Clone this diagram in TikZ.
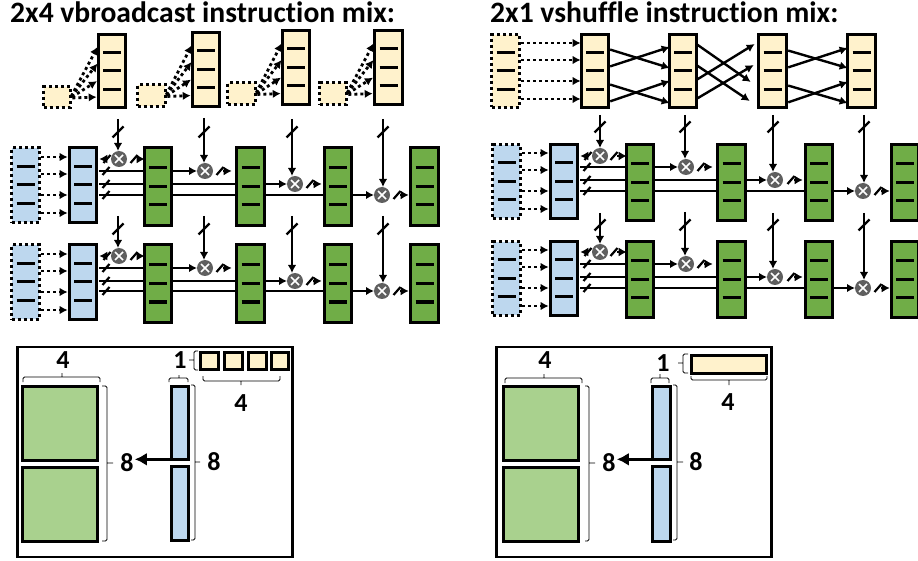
\documentclass[tikz,border=0pt]{standalone}
\usepackage{fontspec}
\setmainfont{Carlito}[Ligatures=NoCommon]
\usetikzlibrary{arrows.meta,calc}
\definecolor{yel}{HTML}{FFF2CC}
\definecolor{blu}{HTML}{BDD7EE}
\definecolor{grn}{HTML}{70AD47}
\definecolor{lgrn}{HTML}{A9D18E}
\definecolor{mgr}{HTML}{5F5F5F}
\tikzset{
  solidbox/.style={draw=black,line width=3.4pt,inner sep=0pt,outer sep=0pt,rectangle},
  dotbox/.style={draw=black,line width=3.2pt,inner sep=0pt,outer sep=0pt,rectangle,dash pattern=on 3pt off 3pt},
  mark line/.style={line width=3pt,black},
  dotarrow/.style={line width=2.8pt,dash pattern=on 3pt off 3pt,-{Latex[length=8pt,width=8.5pt]}},
  conn/.style={line width=2.4pt,black},
  connarrow/.style={line width=2.4pt,black,-{Latex[length=8pt,width=8.5pt]}},
  outarrow/.style={line width=2.4pt,black,-{Latex[length=8pt,width=9pt]}},
  slash/.style={line width=2.2pt,black},
  label text/.style={font=\bfseries\fontsize{26}{26}\selectfont,inner sep=0pt},
  title text/.style={font=\bfseries\fontsize{29.6}{30}\selectfont,inner sep=0pt,anchor=base west},
  brace line/.style={line width=0.9pt,black,rounded corners=1.5pt},
  frame box/.style={draw=black,line width=2.6pt,inner sep=0pt,outer sep=0pt,rectangle,fill=white},
  bigarrow/.style={line width=3.6pt,black,-{Latex[length=12pt,width=13pt]}},
}
% name, style, x1,y1,x2,y2 (outer edges in reference pixels)
\newcommand\bx[6]{\node[#2,minimum width={(#5-#3-3.4)*1pt},minimum height={(#6-#4-3.4)*1pt}] (#1) at ({(#3+#5)/2},{(#4+#6)/2}) {};}
% three marks inside a box
\newcommand\mk[1]{\foreach \dy in {-18.5,0,18.5}{\draw[mark line] ([shift={(-9,\dy)}]#1.center) -- ([shift={(9,\dy)}]#1.center);}}
\newcommand\bxm[6]{\bx{#1}{#2}{#3}{#4}{#5}{#6}\mk{#1}}
% multiplier
\newcommand\mult[3]{\node[circle,fill=mgr,minimum size=16pt,inner sep=0pt,outer sep=0pt] (#1) at (#2,#3) {};
  \draw[white,line width=1.6pt] ([shift={(-4,-4)}]#1.center) -- ([shift={(4,4)}]#1.center) ([shift={(-4,4)}]#1.center) -- ([shift={(4,-4)}]#1.center);}
% slashes across a point: long and short
\newcommand\sla[2]{\draw[slash] ({#1-5.5},{#2+5.5}) -- ({#1+5.5},{#2-5.5});}
\newcommand\ssl[2]{\draw[slash] ({#1-3.5},{#2+4}) -- ({#1+3.5},{#2-4});}
\begin{document}
\begin{tikzpicture}[x=1pt,y=-1pt]
\useasboundingbox (0,0) rectangle (918,561);
\node[title text] (t1) at (10,23) {2x4 vbroadcast instruction mix:};
\node[title text] (t2) at (490,23) {2x1 vshuffle instruction mix:};

% ---------- left top
\bxm{a1}{solidbox,fill=yel}{97}{33}{127}{109}
\bxm{a2}{solidbox,fill=yel}{191}{31}{221}{108}
\bxm{a3}{solidbox,fill=yel}{281}{29}{311}{106}
\bxm{a4}{solidbox,fill=yel}{373}{29}{404}{106}
\bx{s1}{dotbox,fill=yel}{42}{85}{72}{109}
\bx{s2}{dotbox,fill=yel}{136}{83}{167}{108}
\bx{s3}{dotbox,fill=yel}{226}{81}{257}{106}
\bx{s4}{dotbox,fill=yel}{318}{81}{348}{106}
\foreach \i in {1,2,3,4}{
 \foreach \dy in {-26,-9,9,26}{
  \draw[dotarrow,shorten >=2pt,shorten <=2pt] ([yshift=-1pt]s\i.east) -- ([shift={(0,\dy)}]a\i.west);
 }
}
% ---------- right top
\bx{d}{dotbox,fill=yel}{490}{33}{521}{109}\mk{d}
\bxm{b1}{solidbox,fill=yel}{580}{33}{610}{109}
\bxm{b2}{solidbox,fill=yel}{668}{33}{698}{109}
\bxm{b3}{solidbox,fill=yel}{757}{33}{788}{109}
\bxm{b4}{solidbox,fill=yel}{846}{33}{877}{109}
\foreach \y in {43,60,81,99}{\draw[dotarrow,shorten >=1pt,shorten <=2pt] (d.east |- 0,\y) -- (b1.west |- 0,\y);}
\foreach \p/\q/\sy/\ey in {b1/b2/49/68,b1/b2/67/47,b1/b2/84/103,b1/b2/102/81,b3/b4/50/68,b3/b4/68/48,b3/b4/85/103,b3/b4/103/82}{
  \draw[connarrow,shorten <=2pt] (\p.east |- 0,\sy) -- (\q.west |- 0,\ey);}
\draw[connarrow] (b2.east |- 0,44) -- ($(b3.west |- 0,82)+(-8,0)$);
\draw[connarrow] (b2.east |- 0,65) -- ($(b3.west |- 0,101)+(-9,0)$);
\draw[connarrow] (b2.east |- 0,99) -- ($(b3.west |- 0,65)+(-5,0)$);
\draw[connarrow] (b2.east |- 0,80) -- ($(b3.west |- 0,44)+(-4,0)$);

% ---------- multiply rows, left
\foreach \pre/\top/\ya/\yb/\yc/\yd in {L/146/159/171/184/195,M/243/256/268/281/291}{
 \bxm{\pre d}{dotbox,fill=blu}{10}{\top}{41}{\top+78}
 \bxm{\pre b}{solidbox,fill=blu}{68}{\top}{98}{\top+78}
 \bxm{\pre g1}{solidbox,fill=grn}{143}{\top+2}{173}{\top+79}
 \bxm{\pre g2}{solidbox,fill=grn}{235}{\top+2}{266}{\top+79}
 \bxm{\pre g3}{solidbox,fill=grn}{323}{\top+2}{353}{\top+79}
 \bxm{\pre g4}{solidbox,fill=grn}{409}{\top+2}{440}{\top+79}
 \foreach \dy in {11,28,49,67}{\draw[dotarrow,shorten >=2pt,shorten <=2pt] (\pre d.east |- 0,\top+\dy) -- (\pre b.west |- 0,\top+\dy);}
 \mult{\pre m1}{119}{\ya}
 \mult{\pre m2}{205}{\yb}
 \mult{\pre m3}{295}{\yc}
 \mult{\pre m4}{382}{\yd}
 \draw[conn] ($(\pre b.east |- 0,\yb)+(3,0)$) -- (\pre g1.west |- 0,\yb);
 \draw[conn] ($(\pre b.east |- 0,\yc)+(3,0)$) -- (\pre g1.west |- 0,\yc);
 \draw[conn] ($(\pre b.east |- 0,\yd)+(3,0)$) -- (\pre g1.west |- 0,\yd);
 \draw[conn] (\pre g1.east |- 0,\yc) -- (\pre g2.west |- 0,\yc);
 \draw[conn] (\pre g1.east |- 0,\yd) -- (\pre g2.west |- 0,\yd);
 \draw[conn] (\pre g2.east |- 0,\yd) -- (\pre g3.west |- 0,\yd);
 \draw[connarrow] (\pre g1.east |- 0,\yb) -- (\pre m2);
 \draw[connarrow] (\pre g2.east |- 0,\yc) -- (\pre m3);
 \draw[connarrow] (\pre g3.east |- 0,\yd) -- (\pre m4);
 \ssl{106}{\yb}\ssl{106}{\yc}\ssl{106}{\yd}
 \draw[outarrow,shorten <=8pt] (\pre m1) -- ($(\pre b.east |- 0,\ya)+(3,0)$);
 \ssl{107}{\ya}
 \draw[outarrow,shorten <=11pt] (\pre m1) -- (\pre g1.west |- 0,\ya);
 \ssl{134}{\ya}
 \draw[outarrow,shorten <=10pt,shorten >=5pt] (\pre m2) -- (\pre g2.west |- 0,\yb);
 \ssl{220}{\yb}
 \draw[outarrow,shorten <=10pt,shorten >=3pt] (\pre m3) -- (\pre g3.west |- 0,\yc);
 \ssl{310}{\yc}
 \draw[outarrow,shorten <=10pt,shorten >=2pt] (\pre m4) -- (\pre g4.west |- 0,\yd);
 \ssl{397}{\yd}
}
% ---------- multiply rows, right
\foreach \pre/\top/\ya/\yb/\yc/\yd in {R/143/156/167/180/191,S/240/252/264/277/288}{
 \bxm{\pre d}{dotbox,fill=blu}{491}{\top}{522}{\top+77}
 \bxm{\pre b}{solidbox,fill=blu}{549}{\top}{579}{\top+77}
 \bxm{\pre g1}{solidbox,fill=grn}{625}{\top+1}{655}{\top+78}
 \bxm{\pre g2}{solidbox,fill=grn}{716}{\top+1}{747}{\top+78}
 \bxm{\pre g3}{solidbox,fill=grn}{804}{\top+1}{834}{\top+78}
 \bxm{\pre g4}{solidbox,fill=grn}{890}{\top+1}{920}{\top+78}
 \foreach \dy in {10,27,48,66}{\draw[dotarrow,shorten >=2pt,shorten <=2pt] (\pre d.east |- 0,\top+\dy) -- (\pre b.west |- 0,\top+\dy);}
 \mult{\pre m1}{600}{\ya}
 \mult{\pre m2}{686}{\yb}
 \mult{\pre m3}{775}{\yc}
 \mult{\pre m4}{863}{\yd}
 \draw[conn] ($(\pre b.east |- 0,\yb)+(3,0)$) -- (\pre g1.west |- 0,\yb);
 \draw[conn] ($(\pre b.east |- 0,\yc)+(3,0)$) -- (\pre g1.west |- 0,\yc);
 \draw[conn] ($(\pre b.east |- 0,\yd)+(3,0)$) -- (\pre g1.west |- 0,\yd);
 \draw[conn] (\pre g1.east |- 0,\yc) -- (\pre g2.west |- 0,\yc);
 \draw[conn] (\pre g1.east |- 0,\yd) -- (\pre g2.west |- 0,\yd);
 \draw[conn] (\pre g2.east |- 0,\yd) -- (\pre g3.west |- 0,\yd);
 \draw[connarrow] (\pre g1.east |- 0,\yb) -- (\pre m2);
 \draw[connarrow] (\pre g2.east |- 0,\yc) -- (\pre m3);
 \draw[connarrow] (\pre g3.east |- 0,\yd) -- (\pre m4);
 \ssl{587}{\yb}\ssl{587}{\yc}\ssl{587}{\yd}
 \draw[outarrow,shorten <=8pt] (\pre m1) -- ($(\pre b.east |- 0,\ya)+(3,0)$);
 \ssl{588}{\ya}
 \draw[outarrow,shorten <=9pt] (\pre m1) -- (\pre g1.west |- 0,\ya);
 \ssl{614}{\ya}
 \draw[outarrow,shorten <=10pt,shorten >=5pt] (\pre m2) -- (\pre g2.west |- 0,\yb);
 \ssl{701}{\yb}
 \draw[outarrow,shorten <=11pt,shorten >=3pt] (\pre m3) -- (\pre g3.west |- 0,\yc);
 \ssl{791}{\yc}
 \draw[outarrow,shorten <=10pt,shorten >=2pt] (\pre m4) -- (\pre g4.west |- 0,\yd);
 \ssl{878}{\yd}
}
% verticals into multipliers
\foreach \m/\x/\ys/\yl in {Lm1/118/119/132,Lm2/204/118/132,Lm3/292/119/132,Lm4/383/119/132,
  Rm1/600/115/127,Rm2/685/115/127,Rm3/773/115/127,Rm4/864/115/127,
  Mm1/118/216/229,Mm2/204/216/229,Mm3/292/216/229,Mm4/383/216/229,
  Sm1/600/213/225,Sm2/685/212/225,Sm3/773/213/225,Sm4/864/213/225}{
  \coordinate (v\m) at (\x,\ys);
  \draw[connarrow] (v\m) -- (\m.north -| v\m);
  \sla{\x}{\yl}
}

% ---------- bottom-left panel
\node[frame box,minimum width=275pt,minimum height=210pt] (F1) at (155,452) {};
\bx{G1a}{solidbox,fill=lgrn}{21}{385}{99}{462}
\bx{G1b}{solidbox,fill=lgrn}{21}{466}{99}{543}
\bx{B1a}{solidbox,fill=blu}{170}{385}{190}{461}
\bx{B1b}{solidbox,fill=blu}{170}{465}{190}{542}
\bx{Y1a}{solidbox,fill=yel}{199}{351}{220}{371}
\bx{Y1b}{solidbox,fill=yel}{223}{351}{244}{371}
\bx{Y1c}{solidbox,fill=yel}{247}{351}{268}{371}
\bx{Y1d}{solidbox,fill=yel}{270}{351}{290}{371}
\draw[brace line] (23,382) -- (23,377) -- (100,377) -- (100,382) (62,377) -- (62,373);
\draw[brace line] (169,382) -- (169,378) -- (188,378) -- (188,382) (179,378) -- (179,375);
\draw[brace line] (191,385) -- (195,385) -- (195,540) -- (191,540) (195,462) -- (200,462);
\draw[brace line] (102,386) -- (107,386) -- (107,541) -- (102,541) (107,463) -- (113,463);
\draw[brace line] (198,351) -- (194,351) -- (194,370) -- (198,370) (194,360) -- (189,360);
\draw[brace line] (203,376) -- (203,381) -- (280,381) -- (280,376) (241,381) -- (241,385);
\node[label text] (l1a) at (63,360) {4};
\node[label text] (l1b) at (180,360) {1};
\node[label text] (l1c) at (241,403) {4};
\node[label text] (l1d) at (127,463) {8};
\node[label text] (l1e) at (214,462) {8};
\draw[bigarrow,shorten >=1pt] (B1a.south west) -- (l1d.east |- B1a.south west);

% ---------- bottom-right panel
\node[frame box,minimum width=275pt,minimum height=210pt] (F2) at (634,452) {};
\bx{G2a}{solidbox,fill=lgrn}{502}{385}{580}{462}
\bx{G2b}{solidbox,fill=lgrn}{502}{466}{580}{543}
\bx{B2a}{solidbox,fill=blu}{651}{385}{672}{461}
\bx{B2b}{solidbox,fill=blu}{651}{465}{672}{543}
\bx{Y2}{solidbox,fill=yel}{690}{354}{768}{375}
\draw[brace line] (505,383) -- (505,378) -- (582,378) -- (582,383) (544,378) -- (544,374);
\draw[brace line] (651,383) -- (651,378) -- (669,378) -- (669,383) (660,378) -- (660,374);
\draw[brace line] (673,385) -- (677,385) -- (677,540) -- (673,540) (677,462) -- (683,462);
\draw[brace line] (585,386) -- (589,386) -- (589,541) -- (585,541) (589,463) -- (595,463);
\draw[brace line] (688,354) -- (683,354) -- (683,373) -- (688,373) (683,363) -- (678,363);
\draw[brace line] (691,376) -- (691,380) -- (767,380) -- (767,376) (729,380) -- (729,385);
\node[label text] (l2a) at (545,360) {4};
\node[label text] (l2b) at (663,363) {1};
\node[label text] (l2c) at (728,402) {4};
\node[label text] (l2d) at (609,463) {8};
\node[label text] (l2e) at (696,462) {8};
\draw[bigarrow,shorten >=1pt] (B2a.south west) -- (l2d.east |- B2a.south west);
\end{tikzpicture}
\end{document}
